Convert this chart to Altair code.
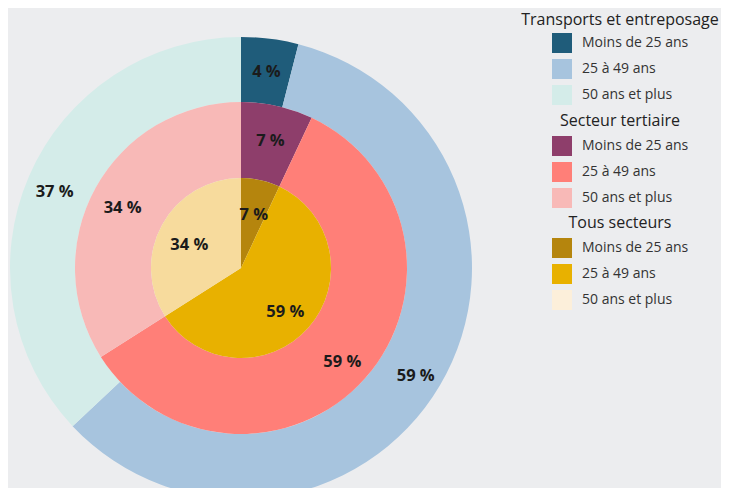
import altair as alt
import pandas as pd

ages = ["Moins de 25 ans", "25 à 49 ans", "50 ans et plus"]

transports_vals = [4, 59, 37]
tertiaire_vals = [7, 59, 34]
tous_vals = [7, 59, 34]

transports_colors = ["#1F5C7A", "#A7C4DE", "#D4ECE9"]
tertiaire_colors = ["#8E3E6B", "#FF7F78", "#F8B9B7"]
tous_colors = ["#B5850D", "#E8B100", "#F7DB9D"]
tous_legend_colors = ["#B5850D", "#E8B100", "#FCEFDA"]

CX, CY = 233, 260


def frame(vals, key):
    return pd.DataFrame({
        key: ages,
        "val": vals,
        "ord": [0, 1, 2],
        "lab": [f"{v} %" for v in vals],
    })


def make_legend(key, lx, ly, tpad):
    return alt.Legend(
        title=key, orient="none", legendX=lx, legendY=ly,
        titleAnchor="middle", titleFontSize=16, titleFontWeight="normal",
        titleFont="Open Sans", titleColor="#222222", titlePadding=tpad,
        titleLimit=400,
        labelFont="Open Sans", labelFontSize=14, labelColor="#333333",
        symbolType="square", symbolSize=400, symbolStrokeWidth=0,
        symbolOpacity=1, rowPadding=6, labelOffset=10,
    )


def ring(vals, key, colors, r_in, r_out, r_lab, lx, ly, tpad, legend_colors=None):
    df = frame(vals, key)
    base = alt.Chart(df).encode(
        theta=alt.Theta("val:Q", stack=True),
        order=alt.Order("ord:Q"),
    )
    out = []
    if legend_colors is None:
        leg = make_legend(key, lx, ly, tpad)
    else:
        leg = None
    arc = base.mark_arc(innerRadius=r_in, outerRadius=r_out).encode(
        x=alt.value(CX), y=alt.value(CY),
        color=alt.Color(
            f"{key}:N",
            scale=alt.Scale(domain=ages, range=colors),
            sort=ages,
            legend=leg,
        ),
    )
    out.append(arc)
    if legend_colors is not None:
        ghost = base.mark_arc(innerRadius=r_in, outerRadius=r_out, opacity=0).encode(
            x=alt.value(CX), y=alt.value(CY),
            color=alt.Color(
                f"{key}:N",
                scale=alt.Scale(domain=ages, range=legend_colors),
                sort=ages,
                legend=make_legend(key, lx, ly, tpad),
            ),
        )
        out.append(ghost)
    txt = base.mark_text(
        radius=r_lab, font="Open Sans", fontSize=16.5, fontWeight="bold",
        color="#1b1b1b", dy=5,
    ).encode(x=alt.value(CX), y=alt.value(CY), text="lab:N")
    out.append(txt)
    return out


layers = (
    ring(transports_vals, "Transports et entreposage", transports_colors, 166, 231, 203, 513, 4, 5)
    + ring(tertiaire_vals, "Secteur tertiaire", tertiaire_colors, 90, 166, 135, 544, 105, 7)
    + ring(tous_vals, "Tous secteurs", tous_colors, 0, 90, 59, 544, 207, 7, tous_legend_colors)
)

chart = alt.layer(*layers).resolve_scale(color="independent").properties(
    width=713, height=480, padding=0,
    autosize=alt.AutoSizeParams(type="none"),
    background="#ECEDEF",
).configure_view(stroke=None)

chart.save("out.html", embed_options={"renderer": "svg", "actions": False})
